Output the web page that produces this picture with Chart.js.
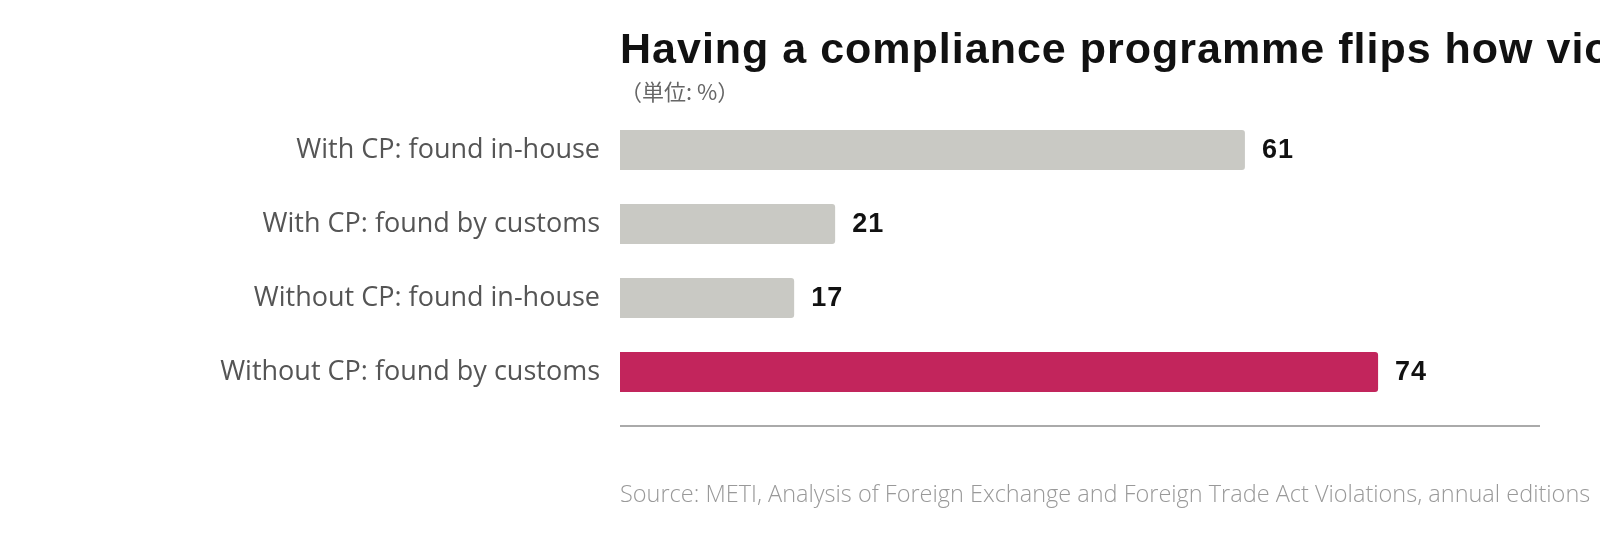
<!DOCTYPE html>
<html>
<head>
<meta charset="utf-8">
<script src="https://cdn.jsdelivr.net/npm/chart.js@4"></script>
<style>
	html, body { margin: 0; padding: 0; background: #fff; overflow: hidden; }
	#chart { display: block; }
</style>
</head>
<body>
<canvas id="chart" width="1600" height="536"></canvas>
<script>
// =================== DATA ===================
const categories = [
	"With CP: found in-house",
	"With CP: found by customs",
	"Without CP: found in-house",
	"Without CP: found by customs",
];
const shares = [61, 21, 17, 74];
const barColors = ["#c9c9c4", "#c9c9c4", "#c9c9c4", "#c2255c"];

const titleText = "Having a compliance programme flips how violations are found";
const unitText = "（単位: %）";
const sourceText =
	"Source: METI, Analysis of Foreign Exchange and Foreign Trade Act Violations, annual editions";

const LABEL_FONT = "'Open Sans', 'Noto Sans', sans-serif";
const TITLE_FONT = "'Liberation Sans', Arial, sans-serif";

// =================== PLUGINS ===================
const valueLabels = {
	id: "valueLabels",
	afterDatasetsDraw(chart) {
		const { ctx } = chart;
		const meta = chart.getDatasetMeta(0);
		ctx.save();
		ctx.font = `bold 27px ${TITLE_FONT}`;
		ctx.fillStyle = "#111";
		ctx.textBaseline = "middle";
		ctx.textAlign = "left";
		ctx.letterSpacing = "1px";
		meta.data.forEach((bar, i) => {
			ctx.fillText(String(shares[i]), bar.x + 17, bar.y + 1);
		});
		ctx.restore();
	},
};

const frameText = {
	id: "frameText",
	afterDraw(chart) {
		const { ctx, chartArea } = chart;
		const left = chartArea.left;
		ctx.save();

		// baseline under the bars
		ctx.strokeStyle = "#aaaaaa";
		ctx.lineWidth = 2;
		ctx.beginPath();
		ctx.moveTo(left, chartArea.bottom + 17);
		ctx.lineTo(chartArea.right - 2, chartArea.bottom + 17);
		ctx.stroke();

		ctx.textAlign = "left";
		ctx.textBaseline = "alphabetic";

		ctx.font = `bold 43px ${TITLE_FONT}`;
		ctx.fillStyle = "#111";
		ctx.letterSpacing = "1px";
		ctx.fillText(titleText, left, 63);
		ctx.letterSpacing = "0px";

		ctx.font = `22px 'Noto Sans CJK JP', sans-serif`;
		ctx.fillStyle = "#666";
		ctx.fillText(unitText, left, 100);

		ctx.font = `300 23.5px ${LABEL_FONT}`;
		ctx.fillStyle = "#999";
		ctx.fillText(sourceText, left, 502);

		ctx.restore();
	},
};

// =================== CHART ===================
new Chart(document.getElementById("chart"), {
	type: "bar",
	data: {
		labels: categories,
		datasets: [
			{
				data: shares,
				backgroundColor: barColors,
				borderRadius: 3,
				barPercentage: 0.54,
				categoryPercentage: 1,
			},
		],
	},
	options: {
		indexAxis: "y",
		responsive: false,
		animation: false,
		devicePixelRatio: 1,
		layout: { padding: { top: 113, bottom: 127, left: 0, right: 58 } },
		plugins: {
			legend: { display: false },
			title: { display: false },
			tooltip: { enabled: false },
		},
		scales: {
			x: { display: false, min: 0, max: 90 },
			y: {
				afterFit: (scale) => {
					scale.width = 620;
				},
				grid: { display: false, drawTicks: false },
				border: { display: false },
				ticks: {
					padding: 20,
					color: "#555",
					font: { family: LABEL_FONT, size: 27, weight: "400" },
				},
			},
		},
	},
	plugins: [valueLabels, frameText],
});
</script>
</body>
</html>
